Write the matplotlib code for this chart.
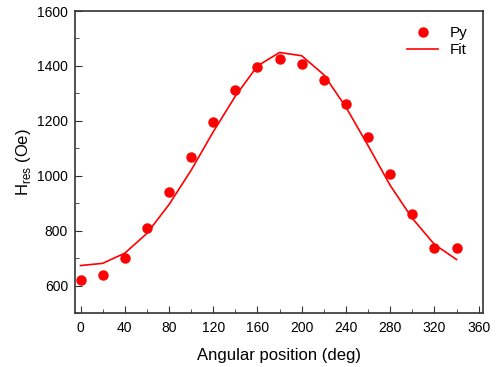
import matplotlib
matplotlib.use("Agg")
import matplotlib.pyplot as plt
from matplotlib.ticker import MultipleLocator

plt.rcParams['font.family'] = ['Liberation Sans', 'DejaVu Sans']

angles = [0, 20, 40, 60, 80, 100, 120, 140, 160, 180, 200, 220, 240, 260, 280, 300, 320, 340]
py_values = [620, 637, 700, 810, 940, 1068, 1197, 1313, 1395, 1425, 1408, 1350, 1260, 1140, 1007, 860, 737, 737]
fit_values = [673, 681, 718, 790, 895, 1020, 1160, 1290, 1400, 1449, 1437, 1368, 1250, 1110, 965, 845, 750, 695]

fig = plt.figure(figsize=(4.98, 3.67), dpi=100)
ax = fig.add_axes([0.1506, 0.147, 0.8194, 0.823])
ax.plot(angles, py_values, 'o', color='#ff0000', markersize=6.5, label='Py', linestyle='none')
ax.plot(angles, fit_values, '-', color='#ff0000', linewidth=1.2, label='Fit')

ax.set_xlim(-5, 364)
ax.set_ylim(500, 1600)
ax.xaxis.set_major_locator(MultipleLocator(40))
ax.xaxis.set_minor_locator(MultipleLocator(20))
ax.yaxis.set_major_locator(MultipleLocator(200))
ax.yaxis.set_minor_locator(MultipleLocator(100))
ax.tick_params(which='both', direction='in', top=False, right=False, labelsize=10, color='#333333')
ax.tick_params(which='major', length=5)
ax.tick_params(which='minor', length=3)
ax.tick_params(axis='x', which='major', pad=6)
ax.tick_params(axis='y', which='major', pad=5)
for s in ax.spines.values():
    s.set_color('#333333')
    s.set_linewidth(1.2)

ax.set_xlabel('Angular position (deg)', fontsize=12, labelpad=9)
ax.set_ylabel(r'H$_{\mathregular{res}}$ (Oe)', fontsize=12, labelpad=3)
ax.legend(loc='upper right', frameon=False, fontsize=11, handlelength=2.0,
          borderaxespad=0.6, labelspacing=0.2)

fig.savefig('out.png', dpi=100)
